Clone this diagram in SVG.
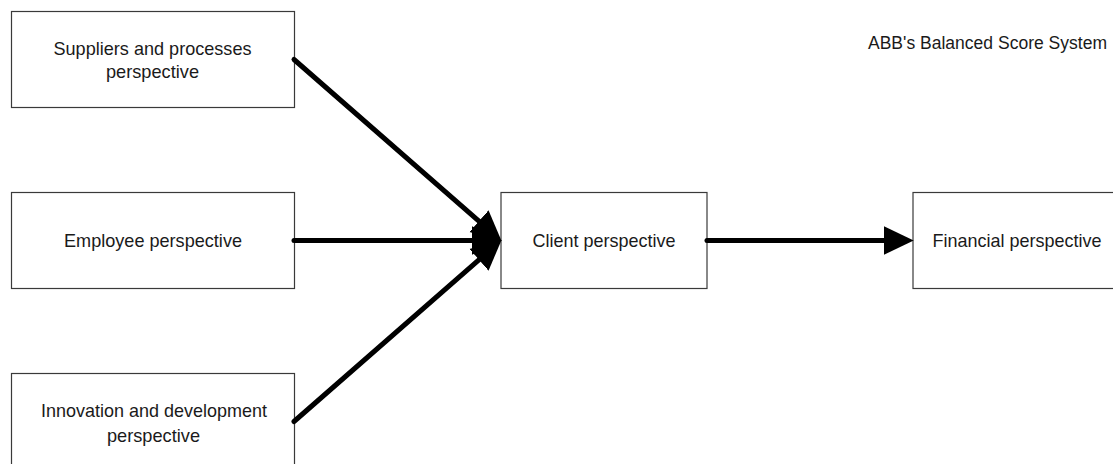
<svg xmlns="http://www.w3.org/2000/svg" width="1113" height="464" viewBox="0 0 1113 464">
<style>
.box{fill:#fff;stroke:#3a3a3a;stroke-width:1.2}
.t{font-family:"Liberation Sans",Arial,sans-serif;font-size:19px;fill:#1a1a1a}
.c{stroke:#000;stroke-width:5;fill:none;stroke-linecap:round}
</style>
<defs>
<marker id="ah" markerUnits="userSpaceOnUse" markerWidth="30" markerHeight="30" viewBox="0 0 28 27" refX="18" refY="13.5" orient="auto">
<path d="M0,0 L28,13.5 L0,27 z" fill="#000"/>
</marker>
</defs>
<rect width="1113" height="464" fill="#fff"/>
<g id="title">
<text class="t" x="868" y="49" style="font-size:17.5px" textLength="239" lengthAdjust="spacingAndGlyphs">ABB's Balanced Score System</text>
</g>
<g id="suppliers">
<rect class="box" x="11.5" y="11.5" width="283" height="96"/>
<text class="t" x="53.5" y="55" textLength="198" lengthAdjust="spacingAndGlyphs">Suppliers and processes</text>
<text class="t" x="106" y="78" textLength="93" lengthAdjust="spacingAndGlyphs">perspective</text>
</g>
<g id="employee">
<rect class="box" x="11.5" y="192.5" width="283" height="96"/>
<text class="t" x="64" y="247" textLength="178" lengthAdjust="spacingAndGlyphs">Employee perspective</text>
</g>
<g id="innovation">
<rect class="box" x="11.5" y="373.5" width="283" height="96"/>
<text class="t" x="41" y="417" textLength="226" lengthAdjust="spacingAndGlyphs">Innovation and development</text>
<text class="t" x="107" y="442" textLength="93" lengthAdjust="spacingAndGlyphs">perspective</text>
</g>
<g id="client">
<rect class="box" x="501" y="192.5" width="206" height="96"/>
<text class="t" x="532.5" y="247" textLength="143" lengthAdjust="spacingAndGlyphs">Client perspective</text>
</g>
<g id="financial">
<rect class="box" x="913" y="192.5" width="206" height="96"/>
<text class="t" x="932.5" y="247" textLength="169" lengthAdjust="spacingAndGlyphs">Financial perspective</text>
</g>
<g id="connectors">
<line class="c" x1="294" y1="59.5" x2="493.5" y2="233.9" marker-end="url(#ah)"/>
<line class="c" x1="294" y1="240.5" x2="491" y2="240.5" marker-end="url(#ah)"/>
<line class="c" x1="294" y1="421.5" x2="493.5" y2="247.1" marker-end="url(#ah)"/>
<line class="c" x1="707" y1="240.5" x2="903" y2="240.5" marker-end="url(#ah)"/>
</g>
</svg>
